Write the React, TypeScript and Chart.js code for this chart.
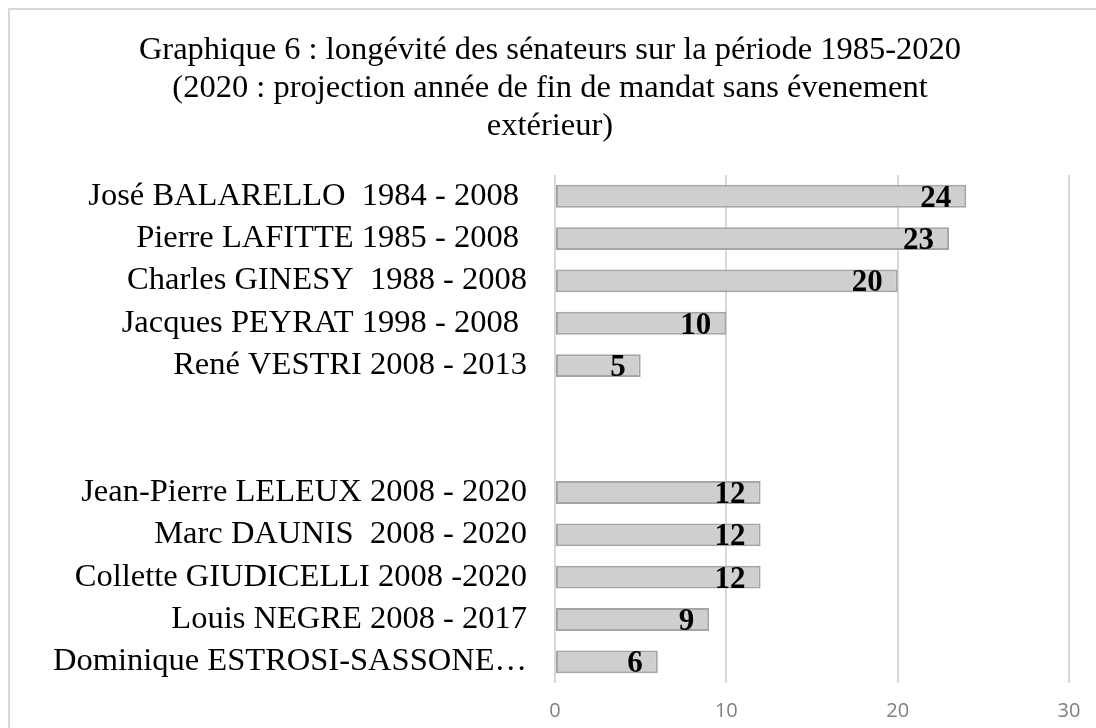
import React, { useEffect, useRef } from "react";
import { Chart, registerables } from "chart.js";

Chart.register(...registerables);

const titleLines = [
  "Graphique 6 : longévité des sénateurs sur la période 1985-2020",
  "(2020 : projection année de fin de mandat sans évenement",
  "extérieur)",
];

const senators = [
  "José BALARELLO  1984 - 2008 ",
  "Pierre LAFITTE 1985 - 2008 ",
  "Charles GINESY  1988 - 2008",
  "Jacques PEYRAT 1998 - 2008 ",
  "René VESTRI 2008 - 2013",
  "",
  "",
  "Jean-Pierre LELEUX 2008 - 2020",
  "Marc DAUNIS  2008 - 2020",
  "Collette GIUDICELLI 2008 -2020",
  "Louis NEGRE 2008 - 2017",
  "Dominique ESTROSI-SASSONE…",
];

const years: (number | null)[] = [24, 23, 20, 10, 5, null, null, 12, 12, 12, 9, 6];

const xTicks = [0, 10, 20, 30];

const valueLabels = {
  id: "valueLabels",
  afterDatasetsDraw(chart: any) {
    const ctx = chart.ctx;
    const meta = chart.getDatasetMeta(0);
    ctx.save();
    ctx.font = "bold 31px 'Liberation Serif', 'Times New Roman', serif";
    ctx.fillStyle = "#000000";
    ctx.textAlign = "right";
    ctx.textBaseline = "alphabetic";
    meta.data.forEach((bar: any, i: number) => {
      const v = years[i];
      if (v === null || v === undefined) return;
      ctx.fillText(String(v), bar.x - 15, bar.y + 10.5);
    });
    ctx.restore();
  },
};

export default function App() {
  const ref = useRef<HTMLCanvasElement | null>(null);

  useEffect(() => {
    document.documentElement.style.overflow = "hidden";
    document.body.style.overflow = "hidden";
    if (!ref.current) return;
    const chart = new Chart(ref.current, {
      type: "bar",
      data: {
        labels: senators,
        datasets: [
          {
            data: years,
            backgroundColor: "#cfcfcf",
            borderColor: "#a5a5a5",
            borderWidth: 2,
            borderSkipped: false,
            barPercentage: 0.54,
            categoryPercentage: 1,
          },
        ],
      },
      options: {
        indexAxis: "y",
        animation: false,
        responsive: true,
        maintainAspectRatio: false,
        layout: { padding: { left: 21, right: 39, top: 0, bottom: 0 } },
        plugins: {
          legend: { display: false },
          tooltip: { enabled: false },
          title: {
            display: true,
            text: titleLines,
            color: "#000000",
            font: { family: "'Liberation Serif', 'Times New Roman', serif", size: 32.5, weight: "normal", lineHeight: 1.16 },
            padding: { top: 22, bottom: 30 },
          },
        },
        scales: {
          x: {
            min: 0,
            max: 30,
            afterBuildTicks: (scale: any) => {
              scale.ticks = xTicks.map((v) => ({ value: v }));
            },
            grid: { color: "#d9d9d9", lineWidth: 2, drawTicks: false, tickLength: 0 },
            border: { display: false },
            ticks: {
              color: "#808080",
              padding: 16,
              font: { family: "'Open Sans', sans-serif", size: 20, lineHeight: 1.2 },
            },
          },
          y: {
            grid: { display: false, drawTicks: false, tickLength: 0 },
            border: { display: false },
            afterFit: (scale: any) => {
              scale.width = 524;
            },
            ticks: {
              color: "#000000",
              padding: 28,
              autoSkip: false,
              font: { family: "'Liberation Serif', 'Times New Roman', serif", size: 32.5 },
            },
          },
        },
      },
      plugins: [valueLabels],
    });
    return () => chart.destroy();
  }, []);

  return (
    <div style={{ position: "relative", width: 1098, height: 729, paddingLeft: 2, paddingTop: 2 }}>
      <div style={{ position: "fixed", left: 8, top: 8, right: 0, height: 2, background: "#d9d9d9" }} />
      <div style={{ position: "fixed", left: 8, top: 8, bottom: 0, width: 2, background: "#d9d9d9" }} />
      <div style={{ position: "relative", width: 1098, height: 729 }}>
        <canvas ref={ref} />
      </div>
    </div>
  );
}
